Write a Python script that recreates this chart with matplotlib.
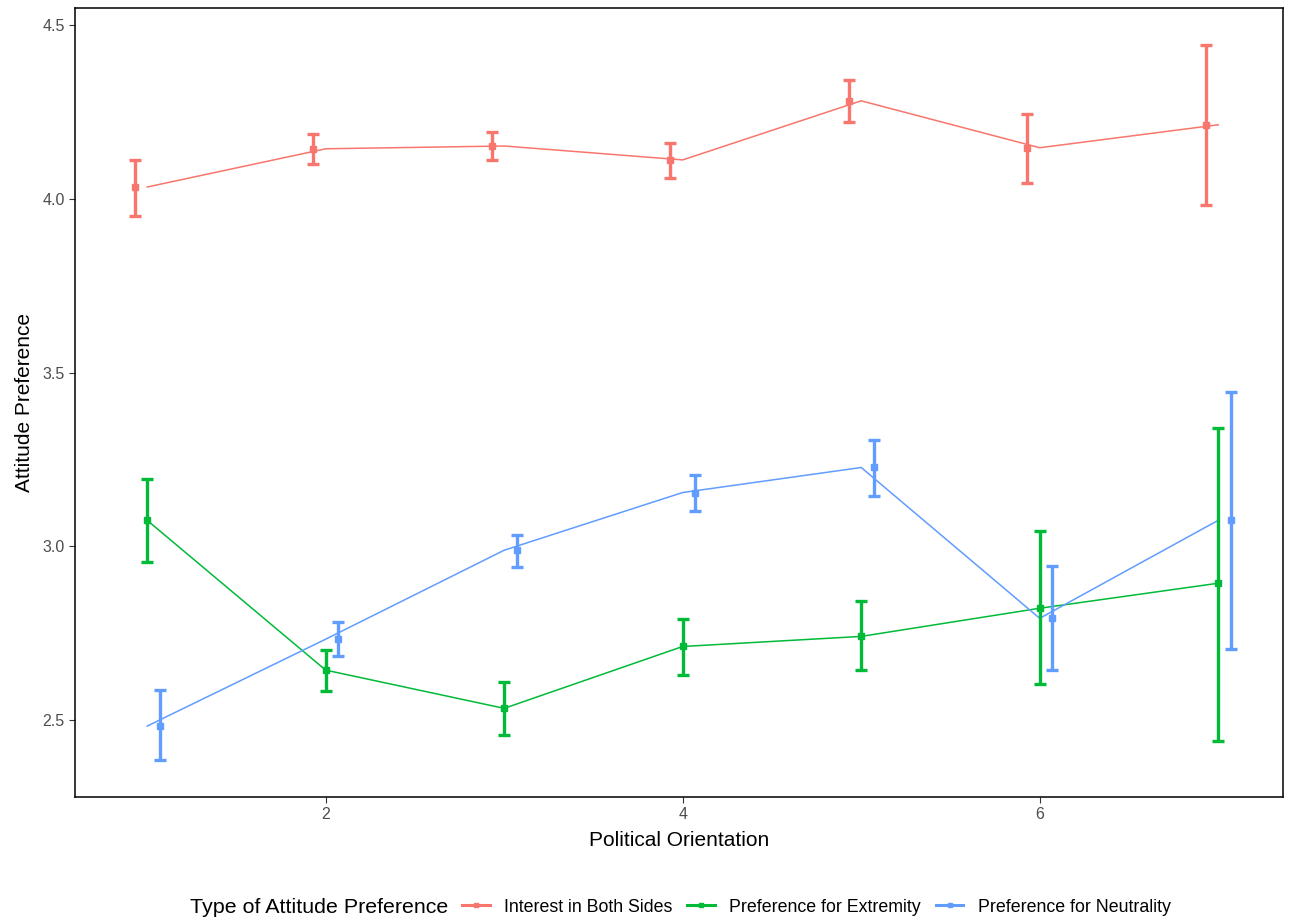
import matplotlib.pyplot as plt
from matplotlib.lines import Line2D

plt.rcParams['font.family'] = ['Liberation Sans', 'DejaVu Sans']

orientation = [1, 2, 3, 4, 5, 6, 7]
series_names = ["Interest in Both Sides", "Preference for Extremity", "Preference for Neutrality"]
series_colors = ["#F8766D", "#00BA38", "#619CFF"]

both_mean = [4.034, 4.144, 4.152, 4.112, 4.282, 4.147, 4.213]
both_low = [3.951, 4.101, 4.112, 4.060, 4.221, 4.046, 3.983]
both_high = [4.112, 4.187, 4.193, 4.161, 4.342, 4.244, 4.443]

extreme_mean = [3.075, 2.644, 2.534, 2.712, 2.741, 2.822, 2.894]
extreme_low = [2.954, 2.583, 2.457, 2.629, 2.644, 2.603, 2.440]
extreme_high = [3.193, 2.701, 2.609, 2.790, 2.842, 3.043, 3.342]

neutral_mean = [2.483, 2.733, 2.989, 3.155, 3.227, 2.793, 3.075]
neutral_low = [2.385, 2.684, 2.940, 3.103, 3.144, 2.644, 2.704]
neutral_high = [2.586, 2.782, 3.032, 3.204, 3.305, 2.943, 3.443]

means = [both_mean, extreme_mean, neutral_mean]
lows = [both_low, extreme_low, neutral_low]
highs = [both_high, extreme_high, neutral_high]
dodge = [-0.07, 0.0, 0.07]

fig = plt.figure(figsize=(12.94, 9.22), dpi=100)
ax = fig.add_axes([0.058, 0.1356, 0.9335, 0.8557])

for i in range(len(series_names)):
    c = series_colors[i]
    m = means[i]
    xs = [x + dodge[i] for x in orientation]
    err = [[m[j] - lows[i][j] for j in range(len(m))],
           [highs[i][j] - m[j] for j in range(len(m))]]
    ax.plot(orientation, m, color=c, lw=1.1, zorder=2)
    ax.errorbar(xs, m, yerr=err, fmt='s', color=c, markersize=3.8,
                elinewidth=2.4, capsize=4.1, capthick=2.4, zorder=3)

ax.set_xlim(0.596, 7.363)
ax.set_ylim(2.279, 4.549)
ax.set_xticks([2, 4, 6])
ax.set_yticks([2.5, 3.0, 3.5, 4.0, 4.5])
ax.set_yticklabels(["2.5", "3.0", "3.5", "4.0", "4.5"])
ax.tick_params(colors="#333333", labelcolor="#4D4D4D", labelsize=11.5, length=4)
for s in ax.spines.values():
    s.set_linewidth(1.1)
    s.set_color("black")

ax.set_xlabel("Political Orientation", fontsize=15, labelpad=6)
ax.set_ylabel("Attitude Preference", fontsize=15, labelpad=6)

handles = [Line2D([], [], color=c, lw=2.2, marker='s', markersize=3.5) for c in series_colors]
fig.text(448 / 1294, 1 - 907 / 922, "Type of Attitude Preference", fontsize=15.4,
         ha="right", va="center")
fig.legend(handles, series_names, loc="center left", bbox_to_anchor=(462 / 1294, 1 - 907 / 922),
           ncol=3, frameon=False, fontsize=12.8, handlelength=1.55, handletextpad=0.8,
           columnspacing=0.85, borderaxespad=0, borderpad=0)

plt.savefig("out.png", dpi=100)
plt.close(fig)
